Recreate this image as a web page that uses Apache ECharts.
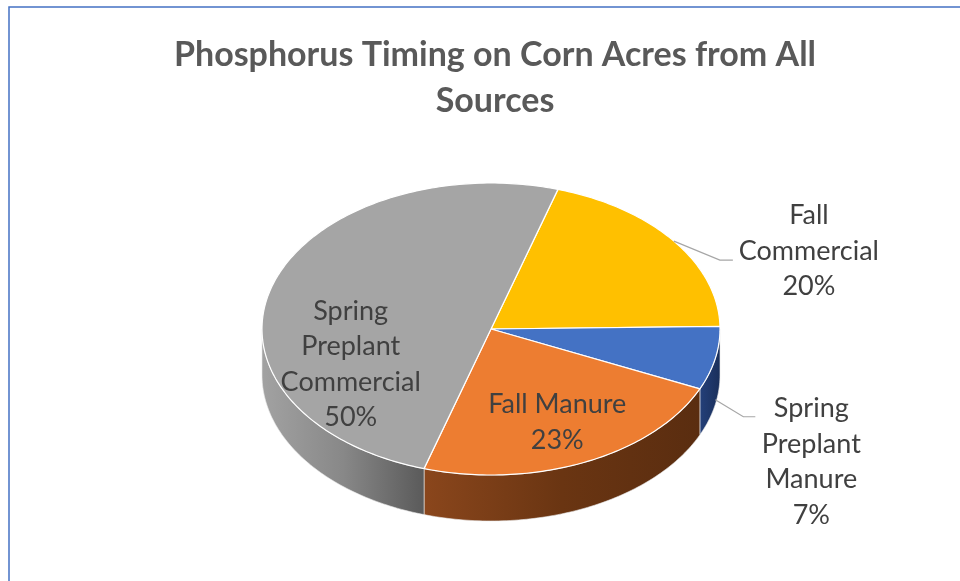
<!DOCTYPE html>
<html>
<head>
<meta charset="utf-8">
<script src="https://cdn.jsdelivr.net/npm/echarts@6/dist/echarts.min.js"></script>
<style>
  html, body { margin: 0; padding: 0; background: #fff; }
  #chart { width: 960px; height: 581px; }
</style>
</head>
<body>
<div id="chart"></div>
<script>
'use strict';

// slice data, in clockwise order starting at the yellow slice
var sliceNames = ['Fall\nCommercial', 'Spring\nPreplant\nManure', 'Fall Manure', 'Spring\nPreplant\nCommercial'];
var sliceValues = [20, 7, 23, 50];

// look of each slice
var topColors = ['#FFC000', '#4472C4', '#ED7D31', '#A5A5A5'];
var sideColors = [
    ['#8a6a00', '#6b5200'],
    ['#24407a', '#1a2f5a'],
    ['#8a461c', '#6a3512', '#5a2d10'],
    ['#a2a2a2', '#888888', '#5a5a5a']
];
var labelInside = [false, false, true, true];
// label offsets (px) relative to the anchor on the rim / inside the slice
var labelShift = [[135, 10], [96, 62], [0, 0], [13, 65]];
var leaderBend = [[[46, 19], [59, 19]], [[28, 17], [40, 17]], null, null];

// pie geometry
var cx = 491, cy = 329, rx = 229, ry = 146, depth = 46;
var firstAngle = 17;

var total = sliceValues.reduce(function (a, b) { return a + b; }, 0);

function pt(a, dy) {
    var r = a * Math.PI / 180;
    return [cx + rx * Math.sin(r), cy - ry * Math.cos(r) + (dy || 0)];
}

function sliceRange(i) {
    var before = 0;
    for (var k = 0; k < i; k++) before += sliceValues[k];
    var a0 = firstAngle + before / total * 360;
    var a1 = a0 + sliceValues[i] / total * 360;
    return [a0, a1];
}

function arc(a0, a1, dy) {
    var pts = [];
    var n = Math.max(2, Math.ceil(Math.abs(a1 - a0)));
    for (var k = 0; k <= n; k++) pts.push(pt(a0 + (a1 - a0) * k / n, dy));
    return pts;
}

function renderSlice(params, api) {
    var i = params.dataIndex;
    var r = sliceRange(i);
    var a0 = r[0], a1 = r[1];
    var children = [];

    // side wall, only where the rim faces the viewer (90..270 deg)
    var lo = Math.max(a0, 90), hi = Math.min(a1, 270);
    if (hi > lo) {
        var side = arc(lo, hi, 0).concat(arc(hi, lo, depth));
        var stops = sideColors[i].map(function (c, k, arr) {
            return { offset: k / (arr.length - 1), color: c };
        });
        children.push({
            type: 'polygon',
            shape: { points: side },
            style: {
                fill: new echarts.graphic.LinearGradient(0, 0, 1, 0, stops),
                stroke: '#e8e8e8',
                lineWidth: 0.6
            }
        });
    }

    // top face
    var top = [[cx, cy]].concat(arc(a0, a1, 0));
    children.push({
        type: 'polygon',
        shape: { points: top },
        style: { fill: topColors[i], stroke: '#ffffff', lineWidth: 1.2 }
    });

    // label
    var mid = (a0 + a1) / 2;
    var text = sliceNames[i] + '\n' + Math.round(sliceValues[i] / total * 100) + '%';
    var anchor;
    if (labelInside[i]) {
        var p = pt(mid, 0);
        anchor = [cx + (p[0] - cx) * 0.7, cy + (p[1] - cy) * 0.7];
    } else {
        var front = Math.cos(mid * Math.PI / 180) < 0;
        anchor = pt(mid, front ? depth * 0.9 : 0);
        var b = leaderBend[i];
        children.push({
            type: 'polyline',
            shape: { points: [anchor, [anchor[0] + b[0][0], anchor[1] + b[0][1]], [anchor[0] + b[1][0], anchor[1] + b[1][1]]] },
            style: { stroke: '#a6a6a6', lineWidth: 1.2, fill: null }
        });
    }
    children.push({
        type: 'text',
        style: {
            text: text,
            x: anchor[0] + labelShift[i][0],
            y: anchor[1] + labelShift[i][1],
            align: 'center',
            verticalAlign: 'middle',
            font: '27px Lato, "Open Sans", sans-serif',
            lineHeight: 35.5,
            fill: '#404040'
        }
    });

    return { type: 'group', children: children };
}

var chart = echarts.init(document.getElementById('chart'));
chart.setOption({
    backgroundColor: '#ffffff',
    animation: false,
    title: {
        text: 'Phosphorus Timing on Corn Acres from All\nSources',
        left: 490,
        textAlign: 'center',
        top: 27,
        textStyle: {
            fontFamily: 'Lato, "Open Sans", sans-serif',
            fontSize: 34,
            fontWeight: 'bold',
            color: '#595959',
            lineHeight: 46
        }
    },
    graphic: [{
        type: 'rect',
        shape: { x: 9, y: 7, width: 1000, height: 700 },
        style: { fill: null, stroke: '#4472C4', lineWidth: 1.5 },
        silent: true
    }],
    series: [{
        type: 'custom',
        coordinateSystem: 'none',
        renderItem: renderSlice,
        data: sliceValues.map(function (v, i) { return { value: v, name: sliceNames[i] }; })
    }]
});
</script>
</body>
</html>
